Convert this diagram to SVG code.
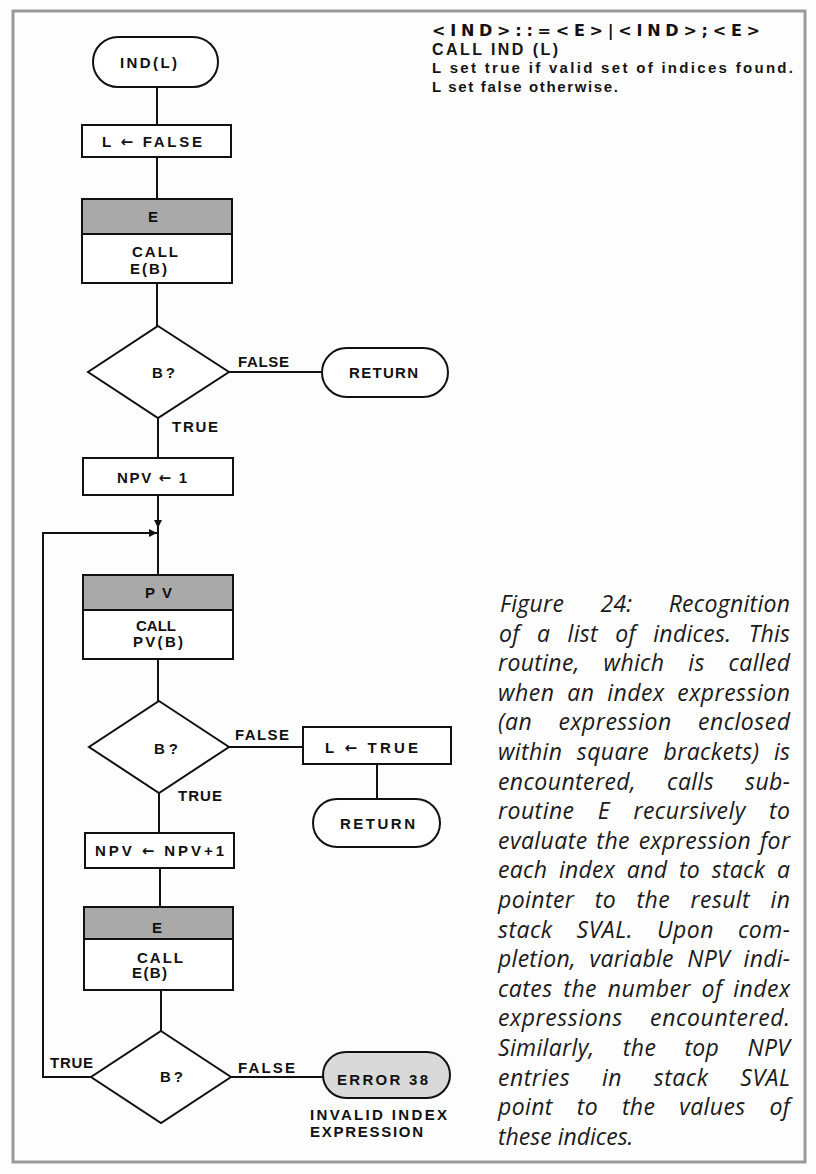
<svg xmlns="http://www.w3.org/2000/svg" width="816" height="1174" viewBox="0 0 816 1174">
<style>
.bg{fill:#fdfdfd}
.frame{fill:none;stroke:#9a9a9a;stroke-width:3}
.shape{fill:#fff;stroke:#111;stroke-width:2}
.hdr{fill:#a9a9a9;stroke:#111;stroke-width:2}
.err{fill:#d9d9d9;stroke:#111;stroke-width:2}
.ln{fill:none;stroke:#111;stroke-width:2}
.t{font-family:"Liberation Sans",Arial,sans-serif;font-weight:bold;font-size:15px;fill:#111}
.ar{font-family:"DejaVu Sans",sans-serif;font-weight:bold;font-size:15px}
.lbl{font-family:"Liberation Sans",Arial,sans-serif;font-weight:bold;font-size:15px;fill:#111}
.hd{font-family:"Liberation Sans",Arial,sans-serif;font-weight:bold;fill:#151515}
.gr{font-family:"DejaVu Sans",sans-serif;font-weight:bold;font-size:16px;fill:#111}
.cap{font-family:"Open Sans","Liberation Sans",sans-serif;font-style:italic;font-size:23px;fill:#1a1a1a}
</style>
<defs>
<marker id="ah" viewBox="0 0 10 10" refX="10" refY="5" markerWidth="10" markerHeight="8" orient="auto" markerUnits="userSpaceOnUse">
<path d="M0,0 L10,5 L0,10 z" fill="#111"/>
</marker>
</defs>
<rect class="bg" x="0" y="0" width="816" height="1174"/>
<rect class="frame" x="13" y="11" width="792" height="1151"/>

<g id="connectors">
<line class="ln" x1="157" y1="87" x2="157" y2="125"/>
<line class="ln" x1="157" y1="157" x2="157" y2="199"/>
<line class="ln" x1="157" y1="283" x2="157" y2="326"/>
<line class="ln" x1="229" y1="372" x2="322" y2="372"/>
<line class="ln" x1="158" y1="418" x2="158" y2="458"/>
<line class="ln" x1="158" y1="495" x2="158" y2="528" marker-end="url(#ah)"/>
<line class="ln" x1="158" y1="524" x2="158" y2="575"/>
<polyline class="ln" points="91,1077 43,1077 43,533 157,533" marker-end="url(#ah)"/>
<line class="ln" x1="158" y1="659" x2="158" y2="701"/>
<line class="ln" x1="229" y1="747" x2="303" y2="747"/>
<line class="ln" x1="377" y1="764" x2="377" y2="799"/>
<line class="ln" x1="159" y1="793" x2="159" y2="833"/>
<line class="ln" x1="160" y1="868" x2="160" y2="907"/>
<line class="ln" x1="161" y1="990" x2="161" y2="1031"/>
<line class="ln" x1="231" y1="1077" x2="323" y2="1077"/>
<text class="lbl" x="238" y="367" textLength="51" lengthAdjust="spacing">FALSE</text>
<text class="lbl" x="172" y="432" textLength="46" lengthAdjust="spacing">TRUE</text>
<text class="lbl" x="235" y="740" textLength="54" lengthAdjust="spacing">FALSE</text>
<text class="lbl" x="178" y="801" textLength="44" lengthAdjust="spacing">TRUE</text>
<text class="lbl" x="50" y="1068" textLength="43" lengthAdjust="spacing">TRUE</text>
<text class="lbl" x="238" y="1073" textLength="57" lengthAdjust="spacing">FALSE</text>
</g>

<g id="start">
<rect class="shape" x="93" y="37" width="125" height="50" rx="25"/>
<text class="t" x="120" y="68" textLength="57" lengthAdjust="spacing">IND(L)</text>
</g>

<g id="set-false">
<rect class="shape" x="82" y="125" width="149" height="32"/>
<text class="t" x="102" y="147" textLength="100" lengthAdjust="spacing">L <tspan class="ar">←</tspan> FALSE</text>
</g>

<g id="call-e-1">
<rect class="shape" x="82" y="199" width="150" height="84"/>
<rect class="hdr" x="82" y="199" width="150" height="35"/>
<text class="t" x="148" y="222">E</text>
<text class="t" x="132" y="257" textLength="46" lengthAdjust="spacing">CALL</text>
<text class="t" x="130" y="274" textLength="37" lengthAdjust="spacing">E(B)</text>
</g>

<g id="test-1">
<polygon class="shape" points="158,326 229,372 158,418 88,372"/>
<text class="t" x="152" y="378" textLength="23" lengthAdjust="spacing">B?</text>
</g>

<g id="return-1">
<rect class="shape" x="322" y="348" width="126" height="49" rx="24.5"/>
<text class="t" x="349" y="378" textLength="69" lengthAdjust="spacing">RETURN</text>
</g>

<g id="npv-init">
<rect class="shape" x="83" y="458" width="150" height="37"/>
<text class="t" x="117" y="483" textLength="70" lengthAdjust="spacing">NPV <tspan class="ar">←</tspan> 1</text>
</g>

<g id="call-pv">
<rect class="shape" x="83" y="575" width="150" height="84"/>
<rect class="hdr" x="83" y="575" width="150" height="35"/>
<text class="t" x="145" y="598" textLength="27" lengthAdjust="spacing">PV</text>
<text class="t" x="136" y="631" textLength="40" lengthAdjust="spacing">CALL</text>
<text class="t" x="133" y="647" textLength="50" lengthAdjust="spacing">PV(B)</text>
</g>

<g id="test-2">
<polygon class="shape" points="159,701 229,747 159,793 89,747"/>
<text class="t" x="154" y="754" textLength="24" lengthAdjust="spacing">B?</text>
</g>

<g id="set-true">
<rect class="shape" x="303" y="727" width="148" height="37"/>
<text class="t" x="325" y="753" textLength="93" lengthAdjust="spacing">L <tspan class="ar">←</tspan> TRUE</text>
</g>

<g id="return-2">
<rect class="shape" x="313" y="799" width="127" height="48" rx="24"/>
<text class="t" x="340" y="829" textLength="75" lengthAdjust="spacing">RETURN</text>
</g>

<g id="npv-inc">
<rect class="shape" x="85" y="833" width="149" height="35"/>
<text class="t" x="95" y="856" textLength="129" lengthAdjust="spacing">NPV <tspan class="ar">←</tspan> NPV+1</text>
</g>

<g id="call-e-2">
<rect class="shape" x="84" y="907" width="149" height="83"/>
<rect class="hdr" x="84" y="907" width="149" height="32"/>
<text class="t" x="152" y="933">E</text>
<text class="t" x="137" y="963" textLength="46" lengthAdjust="spacing">CALL</text>
<text class="t" x="132" y="978" textLength="35" lengthAdjust="spacing">E(B)</text>
</g>

<g id="test-3">
<polygon class="shape" points="161,1031 231,1077 161,1123 91,1077"/>
<text class="t" x="160" y="1082" textLength="23" lengthAdjust="spacing">B?</text>
</g>

<g id="error-38">
<rect class="err" x="323" y="1052" width="127" height="46" rx="23"/>
<text class="t" x="337" y="1085" textLength="91" lengthAdjust="spacing">ERROR 38</text>
<text class="t" x="310" y="1120" textLength="137" lengthAdjust="spacing">INVALID INDEX</text>
<text class="t" x="310" y="1137" textLength="113" lengthAdjust="spacing">EXPRESSION</text>
</g>

<g id="header-notes">
<text class="gr" x="432" y="35.5" textLength="328" lengthAdjust="spacing">&lt;IND&gt;::=&lt;E&gt;|&lt;IND&gt;;&lt;E&gt;</text>
<text class="hd" x="432" y="54.5" font-size="16" textLength="126" lengthAdjust="spacing">CALL IND (L)</text>
<text class="hd" x="432" y="73" font-size="15" textLength="361" lengthAdjust="spacing">L set true if valid set of indices found.</text>
<text class="hd" x="432" y="92" font-size="15" textLength="186" lengthAdjust="spacing">L set false otherwise.</text>
</g>

<g id="caption">
<text class="cap" x="500" y="612" word-spacing="30" textLength="290" lengthAdjust="spacing">Figure 24: Recognition</text>
<text class="cap" x="499" y="642" word-spacing="11" textLength="291" lengthAdjust="spacing">of a list of indices. This</text>
<text class="cap" x="498" y="671" word-spacing="17.6" textLength="292" lengthAdjust="spacing">routine, which is called</text>
<text class="cap" x="498" y="701" word-spacing="6.2" textLength="292" lengthAdjust="spacing">when an index expression</text>
<text class="cap" x="498" y="730" word-spacing="19.7" textLength="292" lengthAdjust="spacing">(an expression enclosed</text>
<text class="cap" x="498" y="760" word-spacing="8.3" textLength="292" lengthAdjust="spacing">within square brackets) is</text>
<text class="cap" x="498" y="790" word-spacing="24.6" textLength="292" lengthAdjust="spacing">encountered, calls sub-</text>
<text class="cap" x="498" y="819" word-spacing="16.9" textLength="292" lengthAdjust="spacing">routine E recursively to</text>
<text class="cap" x="498" y="849" word-spacing="2.3" textLength="292" lengthAdjust="spacing">evaluate the expression for</text>
<text class="cap" x="498" y="878" word-spacing="5.5" textLength="292" lengthAdjust="spacing">each index and to stack a</text>
<text class="cap" x="498" y="908" word-spacing="14.1" textLength="292" lengthAdjust="spacing">pointer to the result in</text>
<text class="cap" x="498" y="938" word-spacing="17.6" textLength="292" lengthAdjust="spacing">stack SVAL. Upon com-</text>
<text class="cap" x="498" y="967" word-spacing="7.3" textLength="292" lengthAdjust="spacing">pletion, variable NPV indi-</text>
<text class="cap" x="498" y="997" word-spacing="4.3" textLength="292" lengthAdjust="spacing">cates the number of index</text>
<text class="cap" x="498" y="1026" word-spacing="20.8" textLength="292" lengthAdjust="spacing">expressions encountered.</text>
<text class="cap" x="498" y="1056" word-spacing="21.9" textLength="292" lengthAdjust="spacing">Similarly, the top NPV</text>
<text class="cap" x="498" y="1086" word-spacing="25.4" textLength="292" lengthAdjust="spacing">entries in stack SVAL</text>
<text class="cap" x="498" y="1115" word-spacing="17.5" textLength="292" lengthAdjust="spacing">point to the values of</text>
<text class="cap" x="498" y="1145">these indices.</text>
</g>
</svg>
